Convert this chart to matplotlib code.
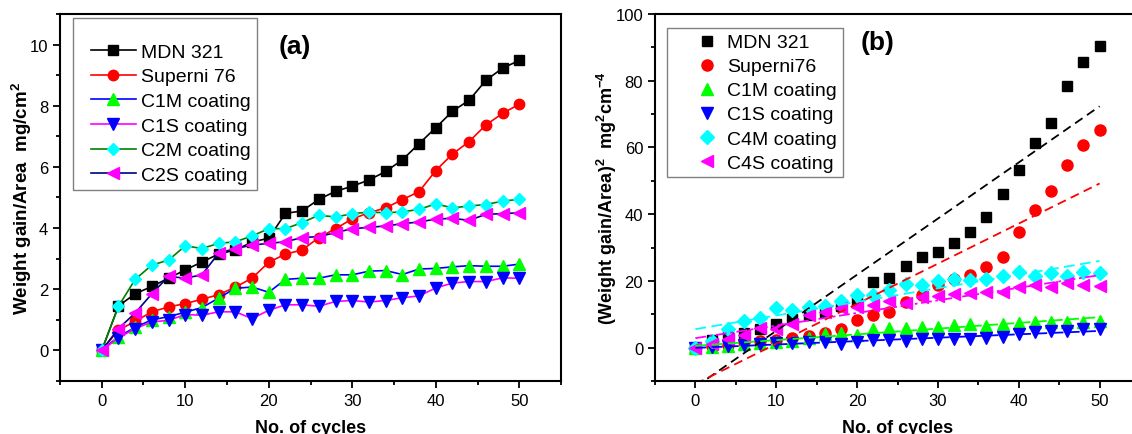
import matplotlib
matplotlib.use("Agg")
import matplotlib.pyplot as plt
from matplotlib.lines import Line2D
from matplotlib.legend_handler import HandlerLine2D
import numpy as np

plt.rcParams['font.family'] = ['Liberation Sans', 'DejaVu Sans']
plt.rcParams['mathtext.default'] = 'regular'

cycles = [0, 2, 4, 6, 8, 10, 12, 14, 16, 18, 20, 22, 24, 26, 28, 30,
          32, 34, 36, 38, 40, 42, 44, 46, 48, 50]

# panel (a): weight gain per area, mg/cm^2
mdn_a = [0, 1.45, 1.85, 2.09, 2.36, 2.63, 2.89, 3.15, 3.28, 3.54, 3.67, 4.48, 4.56,
         4.94, 5.2, 5.37, 5.57, 5.85, 6.23, 6.76, 7.28, 7.82, 8.18, 8.83, 9.23, 9.48]
superni_a = [0, 0.66, 0.95, 1.26, 1.42, 1.53, 1.67, 1.82, 2.07, 2.36, 2.88, 3.15, 3.28,
             3.69, 3.98, 4.3, 4.5, 4.66, 4.93, 5.19, 5.88, 6.42, 6.83, 7.37, 7.75, 8.05]
c1m_a = [0, 0.45, 0.75, 1.0, 1.1, 1.25, 1.4, 1.71, 2.03, 2.07, 1.9, 2.32, 2.36,
         2.36, 2.47, 2.47, 2.59, 2.61, 2.48, 2.66, 2.68, 2.73, 2.77, 2.75, 2.75, 2.82]
c1s_a = [0, 0.41, 0.71, 0.93, 0.98, 1.17, 1.15, 1.26, 1.26, 1.04, 1.31, 1.49, 1.49,
         1.44, 1.6, 1.63, 1.58, 1.63, 1.72, 1.78, 2.04, 2.2, 2.25, 2.25, 2.37, 2.36]
c2m_a = [0, 1.44, 2.32, 2.79, 2.95, 3.42, 3.33, 3.5, 3.55, 3.74, 3.98, 3.98, 4.18,
         4.42, 4.36, 4.47, 4.52, 4.5, 4.53, 4.61, 4.79, 4.66, 4.72, 4.77, 4.88, 4.94]
c2s_a = [0, 0.71, 1.22, 1.85, 2.42, 2.36, 2.47, 3.18, 3.33, 3.44, 3.5, 3.55, 3.69,
         3.72, 3.85, 3.98, 4.02, 4.07, 4.14, 4.2, 4.29, 4.32, 4.25, 4.45, 4.47, 4.5]

# panel (b): (weight gain per area)^2, mg^2 cm^-4
mdn_b = [0, 2.2, 3.7, 4.5, 5.5, 7.0, 8.5, 9.9, 10.6, 12.5, 13.6, 19.8, 20.9,
         24.6, 27.3, 28.7, 31.5, 34.5, 39.2, 46.0, 53.2, 61.2, 67.4, 78.5, 85.6, 90.4]
superni_b = [0, 0.4, 0.9, 1.6, 2.0, 2.4, 3.0, 3.5, 4.3, 5.7, 8.2, 9.9, 10.6,
             13.6, 15.9, 18.8, 20.6, 21.9, 24.3, 27.1, 34.5, 41.3, 46.8, 54.7, 60.7, 65.1]
c1m_b = [0, 0.2, 0.6, 1.0, 1.3, 1.6, 2.0, 2.9, 4.2, 4.5, 3.8, 5.5, 5.8,
         5.9, 6.3, 6.3, 6.8, 7.0, 6.4, 7.1, 7.3, 7.6, 7.7, 7.7, 7.7, 8.1]
c1s_b = [0, 0.2, 0.5, 0.9, 1.0, 1.4, 1.3, 1.6, 1.6, 1.1, 1.7, 2.2, 2.2,
         2.0, 2.6, 2.6, 2.5, 2.6, 2.9, 3.1, 4.2, 4.7, 4.9, 4.9, 5.5, 5.5]
c4m_b = [0, 2.0, 5.5, 7.9, 8.9, 11.8, 11.3, 12.3, 12.6, 14.1, 15.9, 15.8, 17.3,
         19.1, 18.8, 20.1, 20.6, 20.4, 20.6, 21.4, 22.8, 21.4, 22.3, 21.4, 22.8, 22.3]
c4s_b = [0, 1.0, 2.5, 3.7, 5.9, 5.7, 7.0, 9.85, 10.8, 11.8, 12.3, 12.8, 13.9,
         13.4, 15.1, 15.6, 16.1, 16.4, 16.6, 16.8, 18.1, 18.8, 18.1, 19.3, 18.8, 18.6]


def style_axes(ax, ymajor, yminor):
    for s in ax.spines.values():
        s.set_linewidth(1.5)
    ax.set_xlim(-5, 55)
    ax.set_xticks([0, 10, 20, 30, 40, 50])
    ax.set_xticks(np.arange(-5, 56, 5), minor=True)
    ax.set_yticks(ymajor)
    ax.set_yticks(yminor, minor=True)
    ax.tick_params(which='both', direction='out', width=1.3, labelsize=12,
                   top=False, right=False)
    ax.tick_params(which='major', length=5)
    ax.tick_params(which='minor', length=3)


fig = plt.figure(figsize=(11.32, 4.35), dpi=100)
ax1 = fig.add_axes([0.053, 0.122, 0.4426, 0.8435])
ax2 = fig.add_axes([0.5786, 0.122, 0.4285, 0.8435])

# ---- (a)
series_a = [
    (mdn_a, 'MDN 321', 's', 'black', 'black', 7),
    (superni_a, 'Superni 76', 'o', 'red', 'red', 7.5),
    (c1m_a, 'C1M coating', '^', '#00ff00', 'blue', 8),
    (c1s_a, 'C1S coating', 'v', 'blue', '#ff00ff', 8),
    (c2m_a, 'C2M coating', 'D', '#00ffff', 'green', 6.5),
    (c2s_a, 'C2S coating', '<', '#ff00ff', 'navy', 8),
]
for vals, lab, mk, mc, lc, ms in series_a:
    ax1.plot(cycles, vals, color=lc, lw=1.2, marker=mk, ms=ms,
             mfc=mc, mec=mc, label=lab)

style_axes(ax1, [0, 2, 4, 6, 8, 10], np.arange(-1, 11.1, 1))
ax1.set_ylim(-1, 11)
ax1.set_xlabel('No. of cycles', fontsize=13, fontweight='bold', labelpad=8)
ax1.set_ylabel('Weight gain/Area  mg/cm$^2$', fontsize=13.5, fontweight='bold', labelpad=-3)
ax1.text(0.468, 0.913, '(a)', transform=ax1.transAxes, fontsize=19,
         fontweight='bold', ha='center', va='center')
leg1 = ax1.legend(loc='upper left', bbox_to_anchor=(0.026, 0.989), borderaxespad=0,
                  fontsize=14, handlelength=2.9, labelspacing=0.36, handletextpad=0.3,
                  fancybox=False, edgecolor='gray', framealpha=1,
                  title=' ', title_fontsize=9, borderpad=0.32,
                  handler_map={Line2D: HandlerLine2D(xpad=0.62)})
leg1.get_frame().set_linewidth(1.0)

# ---- (b)
series_b = [
    (mdn_b, 'MDN 321', 's', 'black', 7.5, (0, (5, 3))),
    (superni_b, 'Superni76', 'o', 'red', 8, (0, (5, 3))),
    (c1m_b, 'C1M coating', '^', '#00ff00', 8.5, (0, (6, 3))),
    (c1s_b, 'C1S coating', 'v', 'blue', 8.5, (0, (6, 3))),
    (c4m_b, 'C4M coating', 'D', '#00ffff', 7, (0, (6, 3))),
    (c4s_b, 'C4S coating', '<', '#ff00ff', 8.5, (0, (6, 2, 1.5, 2))),
]
xs = np.array(cycles, dtype=float)
for vals, lab, mk, mc, ms, ls in series_b:
    ax2.plot(cycles, vals, ls='none', marker=mk, ms=ms, mfc=mc, mec=mc, label=lab)
for vals, lab, mk, mc, ms, ls in series_b:
    k, b = np.polyfit(xs, vals, 1)
    ax2.plot(xs, k * xs + b, color=mc, lw=1.3, ls=ls)

style_axes(ax2, [0, 20, 40, 60, 80, 100], np.arange(-10, 101, 10))
ax2.set_ylim(-10, 100)
ax2.set_xlabel('No. of cycles', fontsize=13, fontweight='bold', labelpad=8)
ax2.set_ylabel('(Weight gain/Area)$^2$  mg$^2$cm$^{-4}$', fontsize=13,
               fontweight='bold', labelpad=-2.5)
ax2.text(0.459, 0.924, '(b)', transform=ax2.transAxes, fontsize=19,
         fontweight='bold', ha='center', va='center')
leg2 = ax2.legend(loc='upper left', bbox_to_anchor=(0.025, 0.962), borderaxespad=0,
                  fontsize=14, handlelength=2.5, labelspacing=0.33, handletextpad=0.3,
                  fancybox=False, edgecolor='gray', framealpha=1, borderpad=0.3,
                  handler_map={Line2D: HandlerLine2D(xpad=0.98)})
leg2.get_frame().set_linewidth(1.0)

fig.savefig('out.png', dpi=100)
